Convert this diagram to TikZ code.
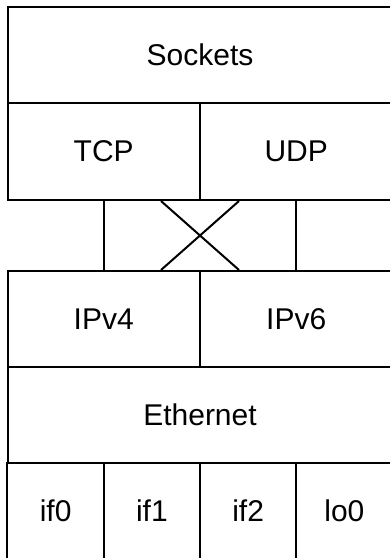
\documentclass[tikz,border=0pt]{standalone}
\usepackage{fontspec}
\setmainfont{Liberation Sans}
\usetikzlibrary{calc}
\begin{document}
\begin{tikzpicture}[x=1pt,y=-1pt,
  layer/.style={draw=black, line width=2pt, rectangle, inner sep=0pt,
    font=\fontsize{30}{36}\selectfont, text=black},
  link/.style={draw=black, line width=2pt}]
\useasboundingbox (0,0) rectangle (389,558);
\fill[white] (0,0) rectangle (389,558);
% upper stack
\node[layer, minimum width=385pt, minimum height=96pt] (sockets) at (200,55) {Sockets};
\node[layer, minimum width=192.5pt, minimum height=97pt] (tcp) at (103.75,151.5) {TCP};
\node[layer, minimum width=192.5pt, minimum height=97pt] (udp) at (296.25,151.5) {UDP};
% lower stack
\node[layer, minimum width=192.5pt, minimum height=96pt] (ipv4) at (103.75,319) {IPv4};
\node[layer, minimum width=192.5pt, minimum height=96pt] (ipv6) at (296.25,319) {IPv6};
\node[layer, minimum width=385pt, minimum height=96pt] (eth) at (200,415) {Ethernet};
\node[layer, minimum width=96.25pt, minimum height=96pt] (if0) at (55.6,511) {if0};
\node[layer, minimum width=96.25pt, minimum height=96pt] (if1) at (151.9,511) {if1};
\node[layer, minimum width=96.25pt, minimum height=96pt] (if2) at (248.1,511) {if2};
\node[layer, minimum width=96.25pt, minimum height=96pt] (lo0) at (344.4,511) {lo0};
% connectors
\draw[link] (tcp.south) -- (ipv4.north);
\draw[link] (udp.south) -- (ipv6.north);
\draw[link] ($(tcp.south east)+(-40,0)$) -- ($(ipv6.north west)+(40,0)$);
\draw[link] ($(udp.south west)+(40,0)$) -- ($(ipv4.north east)+(-40,0)$);
\end{tikzpicture}
\end{document}
